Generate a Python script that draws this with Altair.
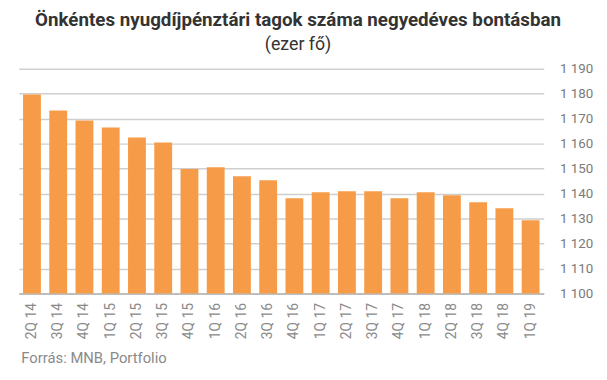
import altair as alt
import pandas as pd

quarters = ["2Q 14", "3Q 14", "4Q 14", "1Q 15", "2Q 15", "3Q 15", "4Q 15", "1Q 16",
            "2Q 16", "3Q 16", "4Q 16", "1Q 17", "2Q 17", "3Q 17", "4Q 17", "1Q 18",
            "2Q 18", "3Q 18", "4Q 18", "1Q 19"]
members = [1179.7, 1173.3, 1169.3, 1166.5, 1162.5, 1160.5, 1149.8, 1150.5,
           1146.9, 1145.3, 1138.1, 1140.5, 1140.9, 1140.9, 1138.1, 1140.5,
           1139.3, 1136.5, 1134.1, 1129.3]
y_ticks = [1100, 1110, 1120, 1130, 1140, 1150, 1160, 1170, 1180, 1190]

df = pd.DataFrame({"q": quarters, "v": members})

FONT = "Roboto"

chart = alt.Chart(df).mark_bar(color="#F69C48", clip=True).encode(
    x=alt.X("q:N", sort=quarters,
            scale=alt.Scale(paddingInner=0.32, paddingOuter=0.16),
            axis=alt.Axis(title="Forrás: MNB, Portfolio", labelAngle=-90,
                          labelFontSize=14, labelColor="#8a8a8a", labelFont=FONT,
                          labelPadding=9, ticks=False, domainColor="#b5b5b5",
                          domainWidth=1.5,
                          titleFont=FONT, titleFontSize=15, titleFontWeight="normal",
                          titleColor="#8a8a8a", titleAnchor="start", titleAlign="left",
                          titleX=2, titleY=70, titleBaseline="alphabetic")),
    y=alt.Y("v:Q", scale=alt.Scale(domain=[1100, 1190], nice=False, zero=False),
            axis=alt.Axis(title=None, orient="right", values=y_ticks,
                          labelExpr="replace(format(datum.value, ','), ',', ' ')",
                          labelFontSize=13.5, labelColor="#7a7a7a", labelFont=FONT,
                          labelPadding=16, ticks=False, domain=False,
                          gridColor="#cfcfcf", gridWidth=1.5)),
).properties(
    width=532, height=228,
    autosize=alt.AutoSizeParams(type="none"),
    padding={"left": 11, "top": 59, "right": 56, "bottom": 77},
    title=alt.TitleParams(
        text="Önkéntes nyugdíjpénztári tagok száma negyedéves bontásban",
        subtitle="(ezer fő)",
        font=FONT, fontSize=19, fontWeight="bold", color="#333333",
        subtitleFont=FONT, subtitleFontSize=18, subtitleColor="#333333",
        subtitlePadding=6, anchor="middle", frame="group", offset=8, dx=17,
    ),
).configure_view(stroke=None)

chart.save("out.html", embed_options={"renderer": "svg", "actions": False})
